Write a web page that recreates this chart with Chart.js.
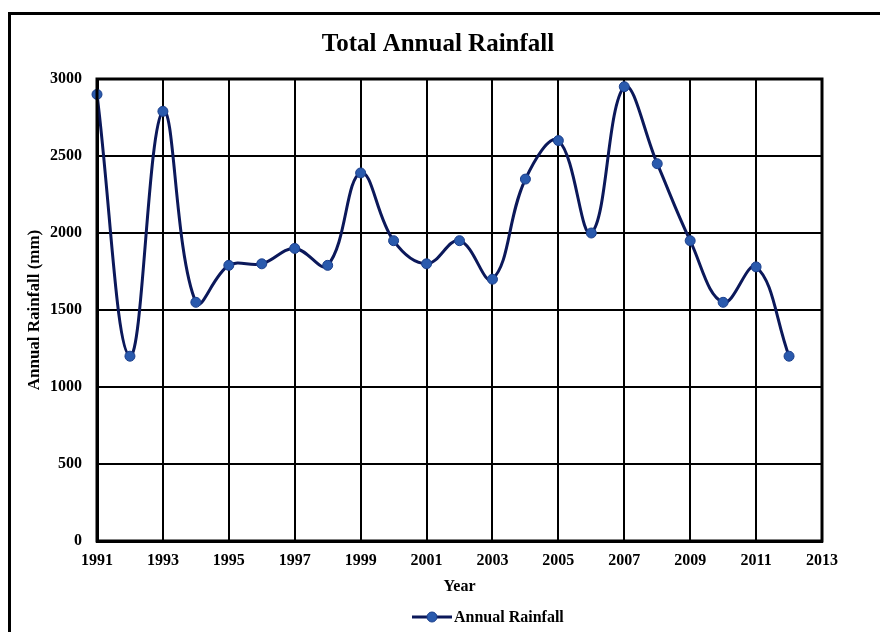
<!DOCTYPE html>
<html>
<head>
<meta charset="utf-8">
<script src="https://cdn.jsdelivr.net/npm/chart.js@4/dist/chart.umd.min.js"></script>
<style>
  html, body { margin: 0; padding: 0; background: #fff; overflow: hidden; }
  #wrap { position: relative; width: 880px; height: 632px; }
  #frame { position: absolute; left: 8px; top: 12px; width: 1000px; height: 1000px;
           border: 3px solid #000; box-sizing: border-box; }
  canvas { position: absolute; left: 0; top: 0; }
</style>
</head>
<body>
<div id="wrap">
  <div id="frame"></div>
  <canvas id="chart" width="880" height="632"></canvas>
</div>
<script>
// values
const years = [1991, 1992, 1993, 1994, 1995, 1996, 1997, 1998, 1999, 2000, 2001,
               2002, 2003, 2004, 2005, 2006, 2007, 2008, 2009, 2010, 2011, 2012];
const rainfall = [2900, 1200, 2790, 1550, 1790, 1800, 1900, 1790, 2390, 1950, 1800,
                  1950, 1700, 2350, 2600, 2000, 2950, 2450, 1950, 1550, 1780, 1200];
const chartTitle = 'Total Annual Rainfall';
const seriesName = 'Annual Rainfall';
const xTitle = 'Year';
const yTitle = 'Annual Rainfall (mm)';

const serif = "'Liberation Serif', 'Times New Roman', serif";
const lineColor = '#0b185a';
const pointColor = '#2a5aad';

// title + legend drawn by hand so they sit where the original has them
const extras = {
  id: 'extras',
  afterDraw: function(chart) {
    const ctx = chart.ctx;
    const a = chart.chartArea;
    ctx.save();
    // plot frame
    ctx.strokeStyle = '#000';
    ctx.lineWidth = 3;
    ctx.strokeRect(a.left, a.top, a.right - a.left, a.bottom - a.top);
    // title
    ctx.fillStyle = '#000';
    ctx.font = 'bold 25px ' + serif;
    ctx.textAlign = 'center';
    ctx.textBaseline = 'middle';
    ctx.fillText(chartTitle, 438, 45);
    // legend
    const ly = 617;
    ctx.strokeStyle = lineColor;
    ctx.lineWidth = 3;
    ctx.beginPath();
    ctx.moveTo(412, ly);
    ctx.lineTo(452, ly);
    ctx.stroke();
    ctx.beginPath();
    ctx.arc(432, ly, 5, 0, Math.PI * 2);
    ctx.fillStyle = pointColor;
    ctx.fill();
    ctx.lineWidth = 1;
    ctx.strokeStyle = '#1b3f8c';
    ctx.stroke();
    ctx.fillStyle = '#000';
    ctx.font = 'bold 16px ' + serif;
    ctx.textAlign = 'left';
    ctx.fillText(seriesName, 454, ly + 1);
    ctx.restore();
  }
};

new Chart(document.getElementById('chart'), {
  type: 'line',
  data: {
    datasets: [{
      label: seriesName,
      data: years.map(function(y, i) { return { x: y, y: rainfall[i] }; }),
      borderColor: lineColor,
      borderWidth: 3,
      tension: 0.4,
      pointRadius: 5,
      pointBackgroundColor: pointColor,
      pointBorderColor: '#1b3f8c',
      pointBorderWidth: 1,
      clip: false,
      fill: false
    }]
  },
  options: {
    responsive: false,
    animation: false,
    layout: { padding: { left: 20, right: 58, top: 79, bottom: 36 } },
    plugins: {
      legend: { display: false },
      title: { display: false },
      tooltip: { enabled: false }
    },
    scales: {
      x: {
        type: 'linear',
        min: 1991,
        max: 2013,
        ticks: {
          stepSize: 2,
          padding: 10,
          color: '#000',
          font: { family: serif, size: 16, weight: 'bold' },
          callback: function(v) { return String(v); }
        },
        grid: { color: '#000', lineWidth: 2, drawTicks: false },
        border: { color: '#000', width: 3 },
        title: {
          display: true, text: xTitle, color: '#000',
          font: { family: serif, size: 16, weight: 'bold' },
          padding: { top: 0, bottom: 0 }
        },
        afterFit: function(s) { s.height = 55; }
      },
      y: {
        min: 0,
        max: 3000,
        ticks: {
          stepSize: 500,
          padding: 15,
          color: '#000',
          font: { family: serif, size: 16, weight: 'bold' },
          callback: function(v) { return String(v); }
        },
        grid: { color: '#000', lineWidth: 2, drawTicks: false },
        border: { color: '#000', width: 3 },
        title: {
          display: true, text: yTitle, color: '#000',
          font: { family: serif, size: 17, weight: 'bold' },
          padding: { top: 4, bottom: 0 }
        },
        afterFit: function(s) { s.width = 77; }
      }
    }
  },
  plugins: [extras]
});
</script>
</body>
</html>
